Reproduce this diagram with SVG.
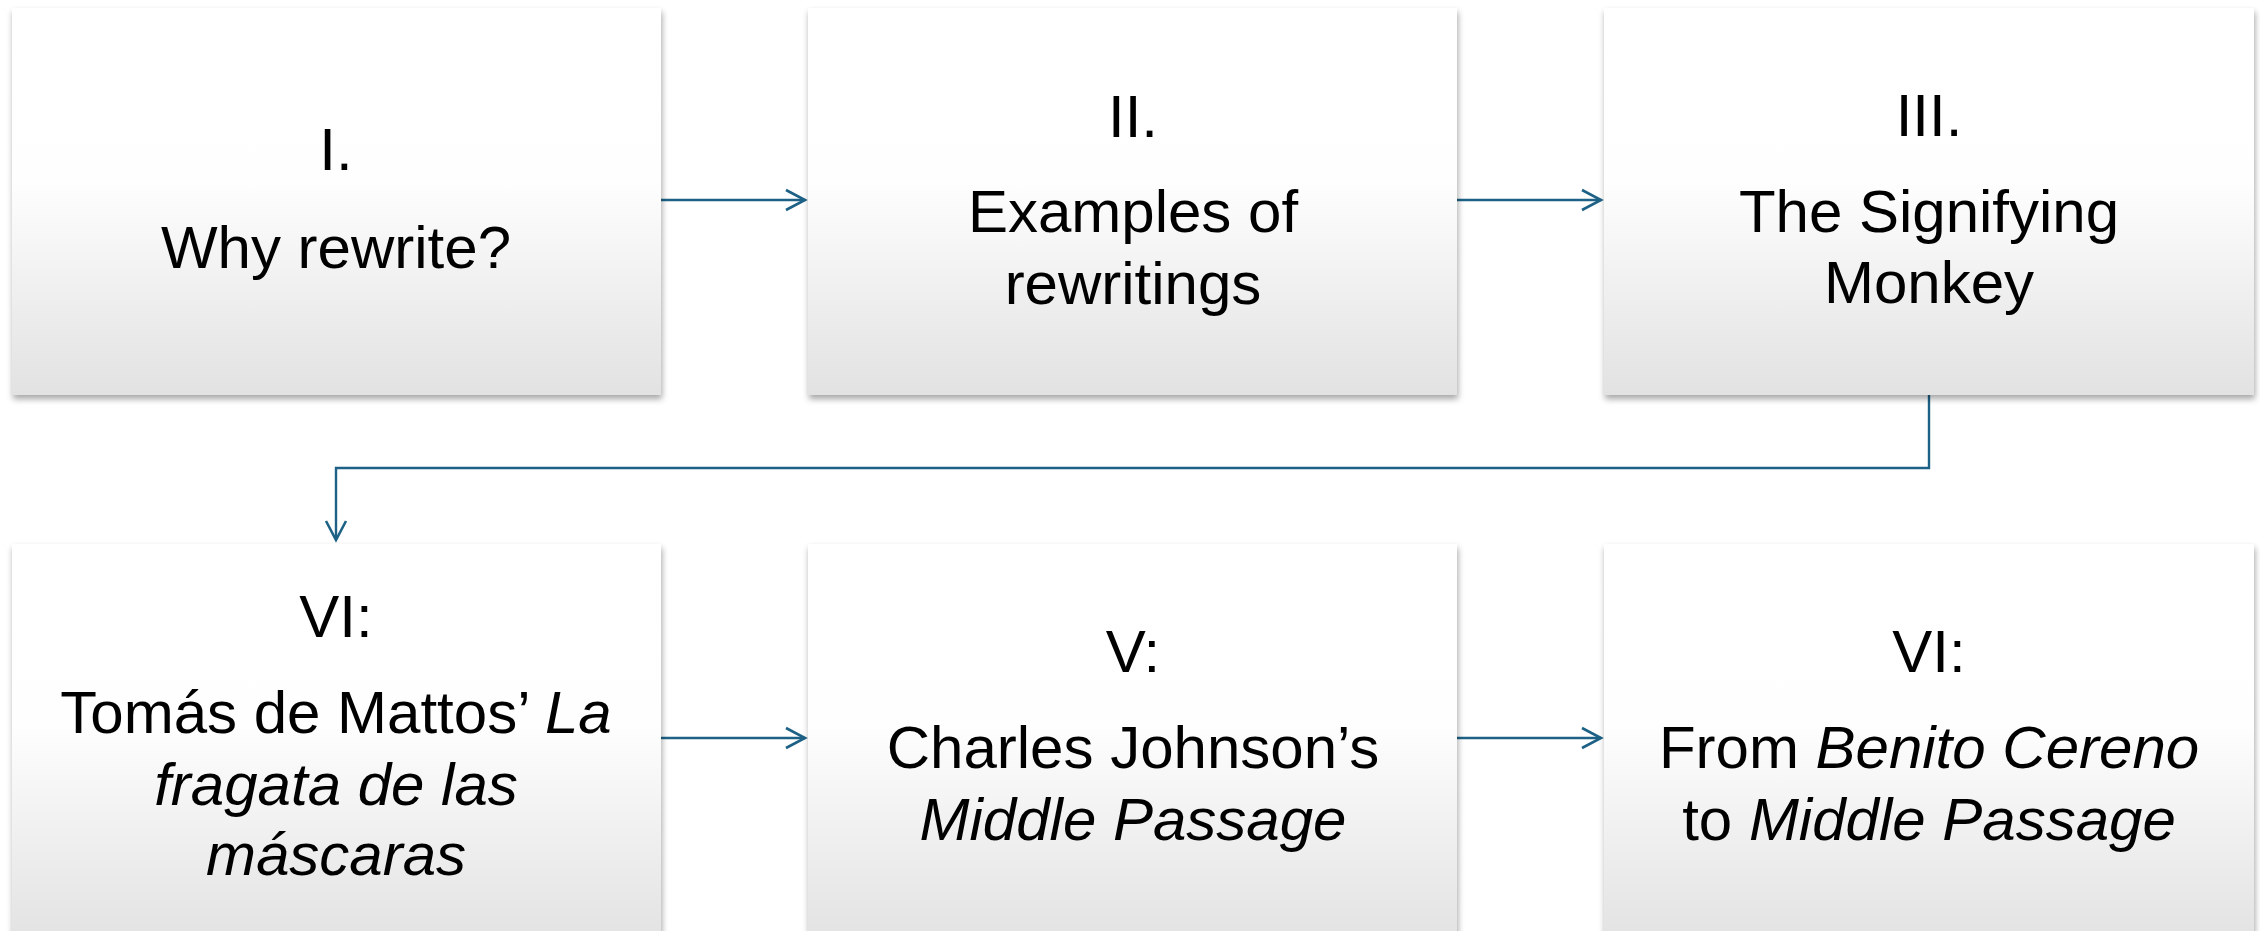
<svg xmlns="http://www.w3.org/2000/svg" width="2260" height="931" viewBox="0 0 2260 931">
  <style>
    .box { fill: url(#boxFill); filter: url(#shadow); }
    .lbl { font-family: "Liberation Sans", Arial, sans-serif; font-size: 60px; fill: #000; text-anchor: middle; }
    .it { font-style: italic; }
    .conn { fill: none; stroke: #1d6286; stroke-width: 2.4; marker-end: url(#chev); }
  </style>
  <defs>
    <linearGradient id="boxFill" x1="0" y1="0" x2="0" y2="1">
      <stop offset="0" stop-color="#ffffff"/>
      <stop offset="0.45" stop-color="#fefefe"/>
      <stop offset="0.7" stop-color="#f1f1f1"/>
      <stop offset="1" stop-color="#e2e2e2"/>
    </linearGradient>
    <filter id="shadow" x="-5%" y="-5%" width="110%" height="115%">
      <feDropShadow dx="1" dy="4" stdDeviation="3" flood-color="#000" flood-opacity="0.35"/>
    </filter>
    <marker id="chev" markerUnits="userSpaceOnUse" viewBox="-22 -13 26 26" markerWidth="26" markerHeight="26" refX="0" refY="0" orient="auto">
      <path d="M-19,-10 L0,0 L-19,10" fill="none" stroke="#1d6286" stroke-width="2.6"/>
    </marker>
  </defs>

  <rect width="2260" height="931" fill="#ffffff"/>

  <!-- connectors -->
  <g id="connectors">
    <path class="conn" d="M661,200 H805"/>
    <path class="conn" d="M1457,200 H1601"/>
    <path class="conn" d="M1929,395 V468 H336 V540"/>
    <path class="conn" d="M661,738 H805"/>
    <path class="conn" d="M1457,738 H1601"/>
  </g>

  <!-- top row -->
  <g id="n1">
    <rect class="box" x="12" y="8" width="649" height="387"/>
    <text class="lbl" x="336" y="170">I.</text>
    <text class="lbl" x="336" y="268">Why rewrite?</text>
  </g>
  <g id="n2">
    <rect class="box" x="808" y="8" width="649" height="387"/>
    <text class="lbl" x="1133" y="137">II.</text>
    <text class="lbl" x="1133" y="232">Examples of</text>
    <text class="lbl" x="1133" y="304">rewritings</text>
  </g>
  <g id="n3">
    <rect class="box" x="1604" y="8" width="650" height="387"/>
    <text class="lbl" x="1929" y="136">III.</text>
    <text class="lbl" x="1929" y="232">The Signifying</text>
    <text class="lbl" x="1929" y="303">Monkey</text>
  </g>

  <!-- bottom row -->
  <g id="n4">
    <rect class="box" x="12" y="544" width="649" height="400"/>
    <text class="lbl" x="336" y="637">VI:</text>
    <text class="lbl" x="336" y="733">Tomás de Mattos’ <tspan class="it">La</tspan></text>
    <text class="lbl it" x="336" y="805">fragata de las</text>
    <text class="lbl it" x="336" y="875">máscaras</text>
  </g>
  <g id="n5">
    <rect class="box" x="808" y="544" width="649" height="400"/>
    <text class="lbl" x="1133" y="672">V:</text>
    <text class="lbl" x="1133" y="768">Charles Johnson’s</text>
    <text class="lbl it" x="1133" y="840">Middle Passage</text>
  </g>
  <g id="n6">
    <rect class="box" x="1604" y="544" width="650" height="400"/>
    <text class="lbl" x="1929" y="672">VI:</text>
    <text class="lbl" x="1929" y="768">From <tspan class="it">Benito Cereno</tspan></text>
    <text class="lbl" x="1929" y="840">to <tspan class="it">Middle Passage</tspan></text>
  </g>
</svg>
